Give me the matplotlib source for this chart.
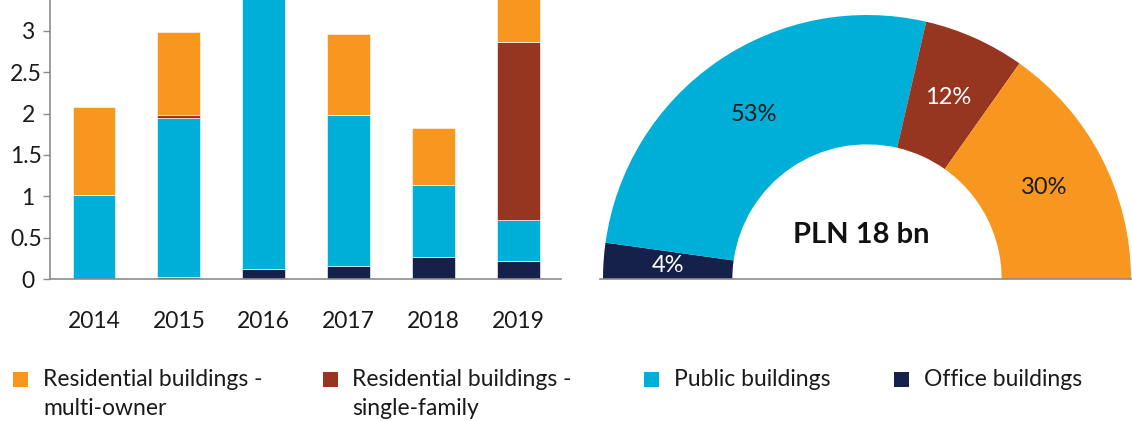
import matplotlib
matplotlib.use('Agg')
import numpy as np
import matplotlib.pyplot as plt
from matplotlib.patches import Rectangle
from matplotlib.transforms import ScaledTranslation

plt.rcParams['font.family'] = ['Lato', 'DejaVu Sans']

# data, PLN bn per year
years = ['2014', '2015', '2016', '2017', '2018', '2019']
office = [0.0, 0.025, 0.125, 0.16, 0.26, 0.22]
public = [1.01, 1.925, 3.40, 1.82, 0.88, 0.49]
single_family = [0.0, 0.033, 0.0, 0.0, 0.0, 2.15]
multi_owner = [1.07, 1.0, 0.0, 0.98, 0.68, 1.60]

# shares of the total (pie), in %
share_labels = ['Office buildings', 'Public buildings',
                'Residential buildings -\nsingle-family', 'Residential buildings -\nmulti-owner']
shares = [4.4, 52.8, 12.4, 30.4]
total_label = 'PLN 18 bn'

yticks = [0, 0.5, 1, 1.5, 2, 2.5, 3, 3.5]

c_orange = '#F8971F'
c_red = '#963520'
c_blue = '#00AFD7'
c_navy = '#16214B'
c_axis = '#8c8c8c'

W, H = 1132, 421
fig = plt.figure(figsize=(W / 100, H / 100), dpi=100)

# ---- stacked bars ----
ax = fig.add_axes([50 / W, (H - 279) / H, 511 / W, 289.5 / H])
x = np.arange(len(years))
bw = 0.506
edge = (1, 1, 1, 0.6)
b0 = np.zeros(len(years))
ax.bar(x, office, bw, bottom=b0, color=c_navy, edgecolor=edge, lw=0.7)
b0 += office
ax.bar(x, public, bw, bottom=b0, color=c_blue, edgecolor=edge, lw=0.7)
b0 += public
ax.bar(x, single_family, bw, bottom=b0, color=c_red, edgecolor=edge, lw=0.7)
b0 += single_family
ax.bar(x, multi_owner, bw, bottom=b0, color=c_orange, edgecolor=edge, lw=0.7)

ax.set_xlim(-0.518, 5.5)
ax.set_ylim(0, 3.5)
ax.set_xticks(x)
ax.set_xticklabels(years)
ax.set_yticks(yticks)
ax.set_yticklabels([('%g' % v) for v in yticks])
ax.tick_params(axis='x', length=0, pad=23, labelsize=16.5, colors='#1a1a1a')
ax.tick_params(axis='y', length=5, width=1, color=c_axis, pad=1, labelsize=16.5,
               labelcolor='#1a1a1a')
for s in ['top', 'right']:
    ax.spines[s].set_visible(False)
for s in ['left', 'bottom']:
    ax.spines[s].set_color(c_axis)
    ax.spines[s].set_linewidth(1.2)
# integer labels sit a bit further left than the decimal ones
for v, lab in zip(yticks, ax.get_yticklabels()):
    if float(v).is_integer():
        lab.set_transform(lab.get_transform() + ScaledTranslation(-0.07, 0, fig.dpi_scale_trans))

# ---- half donut ----
cx, cy, r = 867, 279, 264
ax2 = fig.add_axes([(cx - r) / W, (H - cy - r) / H, 2 * r / W, 2 * r / H])
vals = shares + [sum(shares)]
cols = [c_navy, c_blue, c_red, c_orange, 'none']
wedges, texts, autotexts = ax2.pie(
    vals, colors=cols, startangle=180, counterclock=False, radius=1,
    wedgeprops=dict(width=0.49, linewidth=0),
    autopct=lambda p: '' if p > 49.9 else '%.0f%%' % (2 * p),
    pctdistance=0.755, textprops=dict(fontsize=17))
for t, col in zip(autotexts, ['white', '#1a1a1a', 'white', '#1a1a1a', 'none']):
    t.set_color(col)
ax2.set_aspect('auto')
ax2.set_xlim(-1, 1)
ax2.set_ylim(-1, 1)
ax2.axhline(0, xmin=(600 - cx + r) / (2 * r), xmax=1.2, color=c_axis, lw=1.2, clip_on=False)
ax2.text(-0.02, 0.167, total_label, ha='center', va='center', fontsize=21,
         fontweight='bold', color='#111111')

# ---- legend ----
leg_items = [(share_labels[3], c_orange), (share_labels[2], c_red),
             (share_labels[1], c_blue), (share_labels[0], c_navy)]
leg_x = [13, 322.5, 644, 894]
for (lab, col), lx in zip(leg_items, leg_x):
    fig.patches.append(Rectangle((lx / W, (H - 387) / H), 15 / W, 15 / H,
                                 transform=fig.transFigure, color=col, lw=0))
    fig.text((lx + 30) / W, (H - 369) / H, lab, ha='left', va='top', fontsize=16.5,
             linespacing=1.45, color='#1a1a1a')

fig.savefig('out.png', dpi=100)
